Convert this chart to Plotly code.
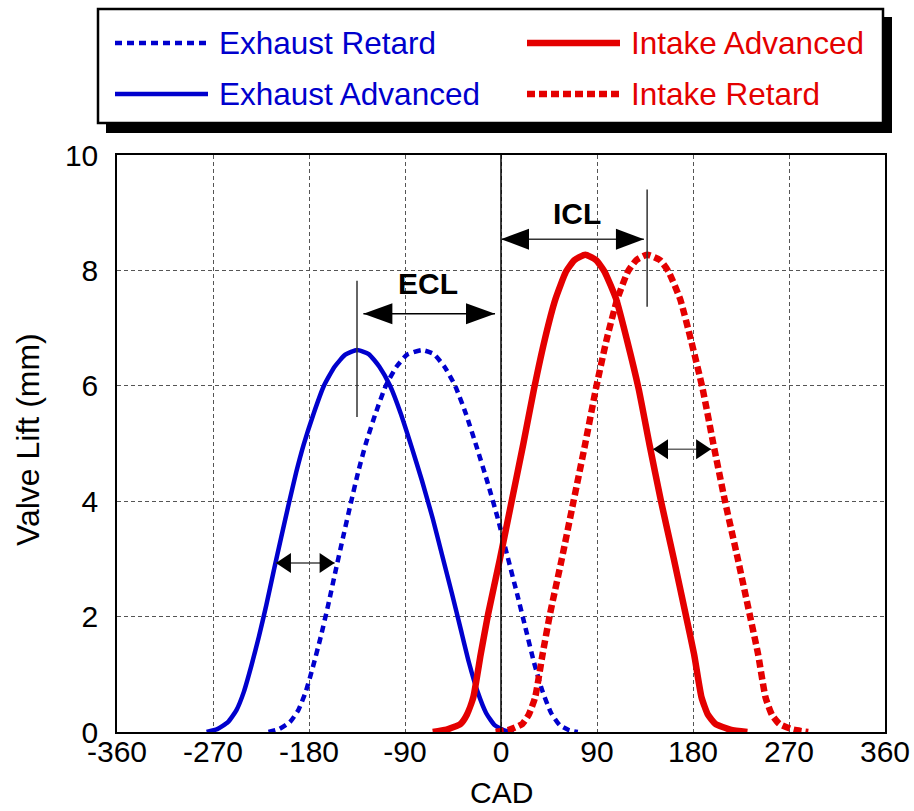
import plotly.graph_objects as go

# ---------------- data ----------------
ex_adv_cad = [-276, -266, -256, -248, -241, -234, -227, -220, -213, -206, -199, -192, -185, -176, -166,
              -156, -146, -135, -124, -114, -104, -94, -84, -74, -64, -55, -46, -38, -30, -22, -14, -6, 3, 12]
ex_adv_lift = [0, 0.05, 0.17, 0.38, 0.7, 1.15, 1.65, 2.2, 2.8, 3.38, 3.95, 4.5, 4.98, 5.5, 6.0,
               6.33, 6.54, 6.62, 6.55, 6.33, 6.0, 5.52, 4.95, 4.35, 3.7, 3.05, 2.4, 1.8, 1.2, 0.7, 0.33, 0.12, 0.03, 0]

ex_ret_cad = [-218, -208, -198, -190, -183, -176, -169, -162, -155, -148, -141, -134, -127, -118, -108,
              -98, -88, -74, -63, -53, -43, -33, -23, -13, -3, 6, 15, 23, 31, 39, 47, 55, 64, 72]
ex_ret_lift = [0, 0.05, 0.17, 0.38, 0.7, 1.15, 1.65, 2.2, 2.8, 3.38, 3.95, 4.5, 4.98, 5.5, 6.0,
               6.33, 6.54, 6.62, 6.55, 6.33, 6.0, 5.52, 4.95, 4.35, 3.7, 3.05, 2.4, 1.8, 1.2, 0.7, 0.33, 0.12, 0.03, 0]

in_adv_cad = [-64, -51, -38, -32, -26, -19, -12, -1, 10, 21, 31, 41, 51, 61, 69, 79,
              89, 97, 108, 118, 129, 139, 150, 162, 173, 181, 188, 194, 201, 215, 231]
in_adv_lift = [0, 0.04, 0.14, 0.3, 0.6, 1.35, 2.05, 3.0, 4.0, 5.0, 5.95, 6.8, 7.5, 7.98, 8.18, 8.27,
               8.18, 7.98, 7.5, 6.8, 5.95, 5.0, 4.0, 3.0, 2.05, 1.35, 0.6, 0.3, 0.14, 0.04, 0]

in_ret_cad = [-5, 8, 20, 26, 32, 39, 46, 57, 68, 79, 89, 99, 109, 119, 127, 137,
              149, 157, 168, 178, 189, 199, 210, 222, 233, 241, 248, 254, 261, 274, 288]
in_ret_lift = [0, 0.04, 0.14, 0.3, 0.6, 1.35, 2.05, 3.0, 4.0, 5.0, 5.95, 6.8, 7.5, 7.98, 8.18, 8.27,
               8.18, 7.98, 7.5, 6.8, 5.95, 5.0, 4.0, 3.0, 2.05, 1.35, 0.6, 0.3, 0.14, 0.04, 0]

x_ticks = [-360, -270, -180, -90, 0, 90, 180, 270, 360]
y_ticks = [0, 2, 4, 6, 8, 10]

series_names = ["Exhaust Retard", "Intake Advanced", "Exhaust Advanced", "Intake Retard"]

# ---------------- styles ----------------
BLUE = "#0000CD"
RED = "#E40000"
FONT = "Liberation Sans, Arial, sans-serif"
BLUE_DOT = "7px,5px"
RED_DOT = "8px,4px"

# plot area in pixels
L, T, W, H = 117, 155, 768, 577
FIG_W, FIG_H = 914, 811


def px_x(p):
    return (p - L) / W


def px_y(p):
    return (T + H - p) / H


fig = go.Figure()

fig.add_trace(go.Scatter(x=ex_adv_cad, y=ex_adv_lift, mode="lines", name=series_names[2],
                         line=dict(color=BLUE, width=4.5, shape="spline", smoothing=0.5),
                         showlegend=False))
fig.add_trace(go.Scatter(x=ex_ret_cad, y=ex_ret_lift, mode="lines", name=series_names[0],
                         line=dict(color=BLUE, width=4.5, dash=BLUE_DOT, shape="spline", smoothing=0.5),
                         showlegend=False))
fig.add_trace(go.Scatter(x=in_adv_cad, y=in_adv_lift, mode="lines", name=series_names[1],
                         line=dict(color=RED, width=6.5, shape="spline", smoothing=0.5),
                         showlegend=False))
fig.add_trace(go.Scatter(x=in_ret_cad, y=in_ret_lift, mode="lines", name=series_names[3],
                         line=dict(color=RED, width=6.5, dash=RED_DOT, shape="spline", smoothing=0.5),
                         showlegend=False))

shapes = []
annotations = []

# vertical reference lines
shapes.append(dict(type="line", xref="x", yref="y", x0=0, x1=0, y0=0, y1=10,
                   line=dict(color="black", width=1.5)))
shapes.append(dict(type="line", xref="x", yref="y", x0=-135, x1=-135, y0=5.46, y1=7.82,
                   line=dict(color="#333333", width=1.5)))
shapes.append(dict(type="line", xref="x", yref="y", x0=137, x1=137, y0=7.37, y1=9.4,
                   line=dict(color="#333333", width=1.5)))


def double_arrow(x0, x1, y, hl, hh, color):
    shapes.append(dict(type="line", xref="x", yref="y", x0=x0, x1=x1, y0=y, y1=y,
                       line=dict(color=color, width=1.5)))
    shapes.append(dict(type="path", xref="x", yref="y", xsizemode="pixel", ysizemode="pixel",
                       xanchor=x0, yanchor=y,
                       path=f"M0,0 L{hl},{hh/2} L{hl},{-hh/2} Z",
                       fillcolor="black", line=dict(color="black", width=0)))
    shapes.append(dict(type="path", xref="x", yref="y", xsizemode="pixel", ysizemode="pixel",
                       xanchor=x1, yanchor=y,
                       path=f"M0,0 L{-hl},{hh/2} L{-hl},{-hh/2} Z",
                       fillcolor="black", line=dict(color="black", width=0)))


double_arrow(-129, -5.6, 7.25, 29, 21, "black")       # ECL
double_arrow(0, 134, 8.54, 28, 21, "#333333")          # ICL
double_arrow(-211, -156, 2.93, 15, 20, "#444444")      # exhaust shift
double_arrow(142.5, 197, 4.9, 15, 20, "#666666")       # intake shift

annotations.append(dict(text="<b>ECL</b>", x=-68, y=7.78, xref="x", yref="y", showarrow=False,
                        font=dict(family=FONT, size=30, color="black"), xanchor="center", yanchor="middle"))
annotations.append(dict(text="<b>ICL</b>", x=71.7, y=8.98, xref="x", yref="y", showarrow=False,
                        font=dict(family=FONT, size=30, color="black"), xanchor="center", yanchor="middle"))

# axis titles
annotations.append(dict(text="CAD", x=px_x(501), y=px_y(811), xref="paper", yref="paper", showarrow=False,
                        font=dict(family=FONT, size=30, color="black"), xanchor="center", yanchor="bottom"))
annotations.append(dict(text="Valve Lift (mm)", x=px_x(28), y=px_y(440), xref="paper", yref="paper",
                        showarrow=False, textangle=-90,
                        font=dict(family=FONT, size=32, color="black"), xanchor="center", yanchor="middle"))

# ---------------- custom legend box ----------------
shapes.append(dict(type="rect", xref="paper", yref="paper", x0=px_x(106), x1=px_x(892), y0=px_y(17), y1=px_y(133),
                   fillcolor="black", line=dict(width=0)))
shapes.append(dict(type="rect", xref="paper", yref="paper", x0=px_x(98), x1=px_x(883), y0=px_y(9), y1=px_y(123),
                   fillcolor="white", line=dict(color="black", width=2.5)))

legend_items = [
    (series_names[0], BLUE, 4.5, BLUE_DOT, 115, 43),
    (series_names[1], RED, 6.5, "solid", 527, 43),
    (series_names[2], BLUE, 4.5, "solid", 115, 94),
    (series_names[3], RED, 6.5, RED_DOT, 527, 94),
]
for name, color, lw, dash, lx, ly in legend_items:
    shapes.append(dict(type="line", xref="paper", yref="paper", x0=px_x(lx), x1=px_x(lx + 93),
                       y0=px_y(ly), y1=px_y(ly), line=dict(color=color, width=lw, dash=dash)))
    annotations.append(dict(text=name, x=px_x(lx + 102), y=px_y(ly), xref="paper", yref="paper",
                            showarrow=False, xanchor="left", yanchor="middle",
                            font=dict(family=FONT, size=31.5, color=color)))

axis_common = dict(showgrid=True, gridcolor="#555555", gridwidth=1, griddash="4px,3px",
                   showline=True, mirror=True, linecolor="black", linewidth=1.5,
                   zeroline=False, ticks="", tickfont=dict(family=FONT, size=30, color="black"))

fig.update_layout(
    width=FIG_W, height=FIG_H,
    margin=dict(l=L, r=FIG_W - L - W, t=T, b=FIG_H - T - H, autoexpand=False),
    paper_bgcolor="white", plot_bgcolor="white",
    xaxis=dict(range=[-360, 360], tickvals=x_ticks, ticktext=[str(v) for v in x_ticks],
               ticklabelstandoff=-8, **axis_common),
    yaxis=dict(range=[0, 10], tickvals=y_ticks, ticktext=[str(v) for v in y_ticks],
               ticklabelstandoff=11, **axis_common),
    shapes=shapes,
    annotations=annotations,
    showlegend=False,
)

fig.write_html("out.html")
